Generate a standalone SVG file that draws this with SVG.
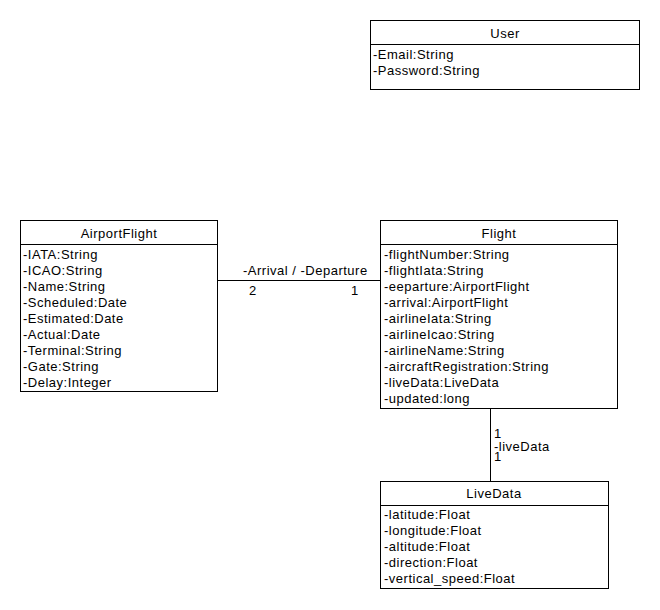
<svg xmlns="http://www.w3.org/2000/svg" width="660" height="610" viewBox="0 0 660 610">
  <style>
    .box { fill: #ffffff; stroke: #000000; stroke-width: 1; }
    .sep { stroke: #000000; stroke-width: 1; }
    .title { font-family: "Liberation Sans", Arial, sans-serif; font-size: 13px; letter-spacing: 0.5px; fill: #000000; text-anchor: middle; }
    .attr { font-family: "Liberation Sans", Arial, sans-serif; font-size: 13px; letter-spacing: 0.5px; fill: #000000; }
    .edge { stroke: #000000; stroke-width: 1; fill: none; }
  </style>
  <rect width="660" height="610" fill="#ffffff"/>

  <g id="connectors">
    <line class="edge" x1="217.5" y1="280.5" x2="380.5" y2="280.5"/>
    <text class="attr" x="243" y="275">-Arrival / -Departure</text>
    <text class="attr" x="249" y="295">2</text>
    <text class="attr" x="351" y="295">1</text>
    <line class="edge" x1="490.5" y1="408.5" x2="490.5" y2="481.5"/>
    <text class="attr" x="494" y="438">1</text>
    <text class="attr" x="494" y="451">-liveData</text>
    <text class="attr" x="494" y="461">1</text>
  </g>

  <g id="User">
    <rect class="box" x="370.5" y="20.5" width="269" height="69"/>
    <line class="sep" x1="370.5" y1="44.5" x2="639.5" y2="44.5"/>
    <text class="title" x="505" y="38">User</text>
    <text class="attr" x="373" y="59">-Email:String</text>
    <text class="attr" x="373" y="75">-Password:String</text>
  </g>

  <g id="AirportFlight">
    <rect class="box" x="20.5" y="220.5" width="197" height="171"/>
    <line class="sep" x1="20.5" y1="244.5" x2="217.5" y2="244.5"/>
    <text class="title" x="119" y="238">AirportFlight</text>
    <text class="attr" x="23" y="259">-IATA:String</text>
    <text class="attr" x="23" y="275">-ICAO:String</text>
    <text class="attr" x="23" y="291">-Name:String</text>
    <text class="attr" x="23" y="307">-Scheduled:Date</text>
    <text class="attr" x="23" y="323">-Estimated:Date</text>
    <text class="attr" x="23" y="339">-Actual:Date</text>
    <text class="attr" x="23" y="355">-Terminal:String</text>
    <text class="attr" x="23" y="371">-Gate:String</text>
    <text class="attr" x="23" y="387">-Delay:Integer</text>
  </g>

  <g id="Flight">
    <rect class="box" x="380.5" y="220.5" width="237" height="188"/>
    <line class="sep" x1="380.5" y1="244.5" x2="617.5" y2="244.5"/>
    <text class="title" x="499" y="238">Flight</text>
    <text class="attr" x="384" y="259">-flightNumber:String</text>
    <text class="attr" x="384" y="275">-flightIata:String</text>
    <text class="attr" x="384" y="291">-eeparture:AirportFlight</text>
    <text class="attr" x="384" y="307">-arrival:AirportFlight</text>
    <text class="attr" x="384" y="323">-airlineIata:String</text>
    <text class="attr" x="384" y="339">-airlineIcao:String</text>
    <text class="attr" x="384" y="355">-airlineName:String</text>
    <text class="attr" x="384" y="371">-aircraftRegistration:String</text>
    <text class="attr" x="384" y="387">-liveData:LiveData</text>
    <text class="attr" x="384" y="403">-updated:long</text>
  </g>

  <g id="LiveData">
    <rect class="box" x="380.5" y="481.5" width="228" height="107"/>
    <line class="sep" x1="380.5" y1="505.5" x2="608.5" y2="505.5"/>
    <text class="title" x="494" y="498">LiveData</text>
    <text class="attr" x="384" y="519">-latitude:Float</text>
    <text class="attr" x="384" y="535">-longitude:Float</text>
    <text class="attr" x="384" y="551">-altitude:Float</text>
    <text class="attr" x="384" y="567">-direction:Float</text>
    <text class="attr" x="384" y="583">-vertical_speed:Float</text>
  </g>
</svg>
